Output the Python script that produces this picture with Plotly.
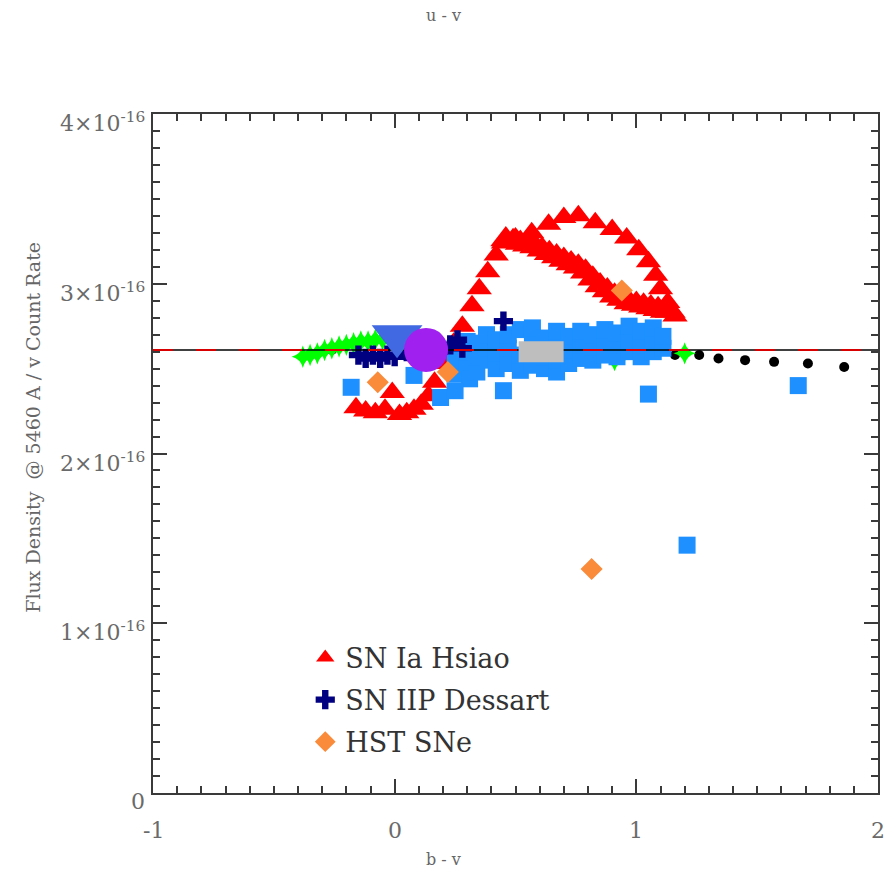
import plotly.graph_objects as go

SCALE = 1e-16
X_RANGE = [-1, 2]
Y_RANGE = [0, 4]
REF_FLUX = 2.61

x_ticks = [-1, 0, 1, 2]
x_tick_labels = ["-1", "0", "1", "2"]
y_ticks = [0, 1, 2, 3, 4]
y_tick_labels = ["0", "1×10<sup>-16</sup>", "2×10<sup>-16</sup>", "3×10<sup>-16</sup>", "4×10<sup>-16</sup>"]

# SN Ia Hsiao (b-v, flux in 1e-16)
hsiao_x = [-0.16, -0.12, -0.08, -0.04, -0.01, 0.02, 0.05, 0.08, 0.11, 0.14,
           0.165, 0.207, 0.244, 0.28, 0.32, 0.35, 0.385, 0.42, 0.45,
           0.50, 0.567, 0.637, 0.70, 0.76, 0.83, 0.90, 0.96, 1.01, 1.05, 1.08, 1.10, 1.13, 1.16]
hsiao_y = [2.27, 2.25, 2.24, 2.26, 2.36, 2.23, 2.24, 2.26, 2.29, 2.34,
           2.42, 2.53, 2.65, 2.75, 2.87, 2.97, 3.07, 3.17, 3.24,
           3.27, 3.30, 3.35, 3.39, 3.40, 3.36, 3.32, 3.27, 3.20, 3.13, 3.05, 2.97, 2.89, 2.81]
hsiao_band_x = [0.46, 0.49, 0.52, 0.55, 0.58, 0.61, 0.64, 0.67, 0.70, 0.73, 0.76, 0.79,
                0.82, 0.85, 0.88, 0.91, 0.94, 0.97, 1.00, 1.03, 1.06, 1.09, 1.12, 1.14]
hsiao_band_y = [3.26, 3.25, 3.24, 3.23, 3.22, 3.20, 3.18, 3.16, 3.14, 3.12, 3.10, 3.07,
                3.03, 2.99, 2.96, 2.93, 2.91, 2.89, 2.88, 2.87, 2.86, 2.85, 2.84, 2.84]

# SN IIP Dessart
dessart_x = [-0.15, -0.12, -0.09, -0.06, -0.03, 0.00, 0.05, 0.10, 0.18, 0.23, 0.26, 0.28, 0.45]
dessart_y = [2.58, 2.56, 2.58, 2.56, 2.58, 2.57, 2.60, 2.62, 2.60, 2.64, 2.67, 2.62, 2.78]

# HST SNe
hst_x = [-0.07, 0.22, 0.94, 0.815]
hst_y = [2.42, 2.48, 2.96, 1.32]

# green star models
green_x = [-0.38, -0.35, -0.32, -0.29, -0.26, -0.23, -0.20, -0.17, -0.14, -0.11, -0.08, -0.05, 0.91, 1.20]
green_y = [2.57, 2.58, 2.59, 2.61, 2.62, 2.63, 2.64, 2.65, 2.66, 2.66, 2.67, 2.67, 2.55, 2.59]

# blue squares
blue_x = [0.25, 0.25, 0.25, 0.30, 0.30, 0.30, 0.31, 0.34, 0.34, 0.34, 0.38, 0.38, 0.38,
          0.42, 0.42, 0.42, 0.47, 0.47, 0.47, 0.52, 0.52, 0.52, 0.57, 0.57, 0.57,
          0.62, 0.62, 0.62, 0.67, 0.67, 0.67, 0.67, 0.72, 0.72, 0.72, 0.77, 0.77, 0.77,
          0.82, 0.82, 0.82, 0.87, 0.87, 0.87, 0.92, 0.92, 0.92, 0.97, 0.97, 0.97,
          1.02, 1.02, 1.02, 1.07, 1.07, 1.07, 1.11, 1.11,
          -0.18, 0.08, 0.19, 0.25, 0.45, 1.05, 1.67, 1.21]
blue_y = [2.47, 2.55, 2.62, 2.52, 2.60, 2.66, 2.44, 2.48, 2.57, 2.65, 2.55, 2.62, 2.70,
          2.50, 2.59, 2.67, 2.53, 2.62, 2.70, 2.49, 2.58, 2.73, 2.52, 2.66, 2.74,
          2.50, 2.57, 2.68, 2.48, 2.55, 2.64, 2.72, 2.53, 2.61, 2.69, 2.56, 2.64, 2.72,
          2.55, 2.63, 2.70, 2.58, 2.66, 2.73, 2.57, 2.64, 2.71, 2.60, 2.68, 2.75,
          2.57, 2.64, 2.72, 2.60, 2.67, 2.74, 2.62, 2.69,
          2.39, 2.46, 2.33, 2.37, 2.37, 2.35, 2.40, 1.46]

# black dots
black_x = [-0.26, 1.16, 1.26, 1.34, 1.45, 1.57, 1.71, 1.86]
black_y = [2.61, 2.58, 2.58, 2.56, 2.55, 2.54, 2.53, 2.51]

# single big symbols
tri_down_x = [0.01]
tri_down_y = [2.69]
circle_x = [0.13]
circle_y = [2.61]
gray_box_x = [0.513, 0.699]
gray_box_y = [2.60, 2.60]

s = lambda v: [a * SCALE for a in v]

FONT = "DejaVu Serif"
fig = go.Figure()

fig.add_trace(go.Scatter(x=black_x, y=s(black_y), mode="markers", showlegend=False,
                         marker=dict(symbol="circle", size=10, color="black")))
fig.add_trace(go.Scatter(x=green_x, y=s(green_y), mode="markers", showlegend=False,
                         marker=dict(symbol="star-diamond", size=16, color="#00FF00", line=dict(width=0))))
fig.add_trace(go.Scatter(x=hsiao_band_x, y=s(hsiao_band_y), mode="markers", showlegend=False,
                         marker=dict(symbol="triangle-up", size=27, color="#FF0000", line=dict(width=0))))
fig.add_trace(go.Scatter(x=hsiao_x, y=s(hsiao_y), mode="markers", name="SN Ia Hsiao", legendgroup="a",
                         marker=dict(symbol="triangle-up", size=22, color="#FF0000", line=dict(width=0))))
fig.add_trace(go.Scatter(x=blue_x, y=s(blue_y), mode="markers", showlegend=False,
                         marker=dict(symbol="square", size=17, color="#1E90FF", line=dict(width=0))))
fig.add_trace(go.Scatter(x=dessart_x, y=s(dessart_y), mode="markers", name="SN IIP Dessart", legendgroup="b",
                         marker=dict(symbol="cross", size=16, color="#000080", line=dict(width=0))))
fig.add_trace(go.Scatter(x=X_RANGE, y=s([REF_FLUX, REF_FLUX]), mode="lines", showlegend=False,
                         line=dict(color="black", width=1.5)))
fig.add_trace(go.Scatter(x=X_RANGE, y=s([REF_FLUX, REF_FLUX]), mode="lines", showlegend=False,
                         line=dict(color="#D80000", width=2, dash="20px,23px")))
fig.add_trace(go.Scatter(x=tri_down_x, y=s(tri_down_y), mode="markers", showlegend=False,
                         marker=dict(symbol="triangle-down", size=44, color="#4169E1", line=dict(width=0))))
fig.add_trace(go.Scatter(x=circle_x, y=s(circle_y), mode="markers", showlegend=False,
                         marker=dict(symbol="circle", size=44, color="#A020F0", line=dict(width=0))))
fig.add_trace(go.Scatter(x=gray_box_x, y=s(gray_box_y), mode="lines", showlegend=False,
                         line=dict(color="#BEBEBE", width=21)))
fig.add_trace(go.Scatter(x=hst_x, y=s(hst_y), mode="markers", name="HST SNe", legendgroup="c",
                         marker=dict(symbol="diamond", size=17, color="#F98B3A", line=dict(width=0))))

axis_common = dict(
    showline=True, linecolor="#3a3a3a", linewidth=2, mirror="ticks",
    ticks="inside", tickcolor="#3a3a3a", tickwidth=1.5, ticklen=14,
    showgrid=False, zeroline=False, showticklabels=False,
)

fig.update_xaxes(range=X_RANGE, tickvals=x_ticks, ticktext=x_tick_labels,
                 minor=dict(ticks="inside", dtick=0.1, ticklen=7, tickwidth=1.5, tickcolor="#3a3a3a"),
                 **axis_common)
fig.update_yaxes(range=s(Y_RANGE), tickvals=s(y_ticks), ticktext=y_tick_labels,
                 minor=dict(ticks="inside", dtick=0.1 * SCALE, ticklen=7, tickwidth=1.5, tickcolor="#3a3a3a"),
                 **axis_common)

tick_font = dict(family=FONT, size=22, color="#6a6a6a")
annotations = [
    dict(text="u - v", xref="paper", yref="paper", x=0.401, y=1.0, yshift=99, showarrow=False,
         font=dict(family=FONT, size=16, color="#666"), yanchor="middle"),
    dict(text="b - v", xref="paper", yref="paper", x=0.401, y=0.0, yshift=-66, showarrow=False,
         font=dict(family=FONT, size=16, color="#666"), yanchor="middle"),
    dict(text="Flux Density  @ 5460 A / v Count Rate", xref="paper", yref="paper",
         x=0.0, xshift=-120, y=0.538, textangle=-90, showarrow=False,
         font=dict(family=FONT, size=19, color="#666"), xanchor="center", yanchor="middle"),
]
for v, t in zip(y_ticks, y_tick_labels):
    annotations.append(dict(text=t, xref="paper", yref="y", x=0.0, xshift=-6, y=v * SCALE, yshift=-8,
                            showarrow=False, xanchor="right", yanchor="middle", font=tick_font))
for v, t in zip(x_ticks, x_tick_labels):
    annotations.append(dict(text=t, xref="x", yref="paper", x=v, y=0.0, yshift=-37,
                            showarrow=False, xanchor="center", yanchor="middle", font=tick_font))

fig.update_layout(
    width=893, height=878,
    margin=dict(l=153, r=15, t=114, b=85),
    paper_bgcolor="white", plot_bgcolor="white",
    font=dict(family=FONT, color="#555"),
    legend=dict(x=0.21, y=0.235, xanchor="left", yanchor="top", bgcolor="rgba(0,0,0,0)",
                font=dict(family=FONT, size=27, color="#333"), tracegroupgap=4),
    annotations=annotations,
)

fig.write_html("out.html", config={"displayModeBar": False},
               post_script="document.body.style.margin='0';document.body.style.overflow='hidden';")
